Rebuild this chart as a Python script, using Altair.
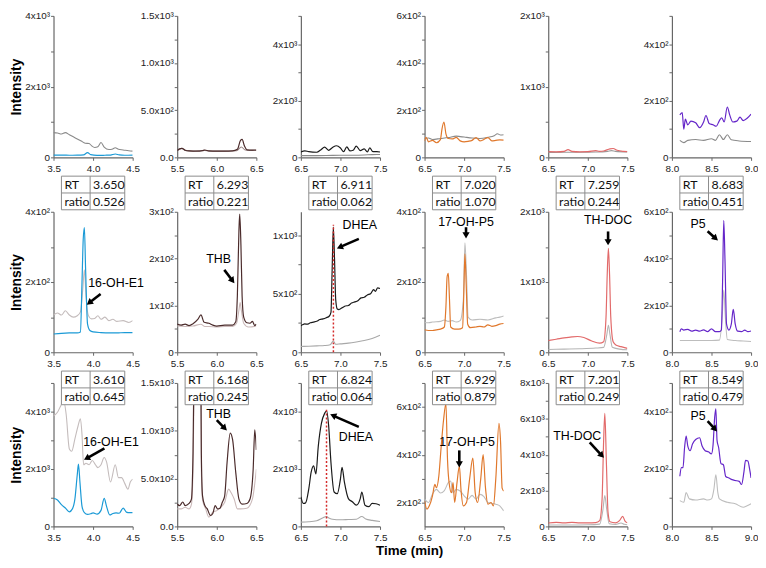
import math
import altair as alt
import pandas as pd

# ---------------- data (time in min, intensity) ----------------
# Row 1
R1C1_MAIN = [(3.5,65),(3.6,62),(3.7,60),(3.8,62),(3.88,70),(3.93,135),(3.97,75),(4.05,55),(4.15,60),(4.22,65),(4.28,95),(4.33,70),(4.4,60),(4.5,65)]
R1C1_REF = [(3.5,700),(3.55,690),(3.6,660),(3.65,700),(3.7,640),(3.75,580),(3.8,520),(3.85,460),(3.9,400),(3.95,390),(3.98,330),(4.02,280),(4.06,300),(4.1,420),(4.14,290),(4.2,220),(4.24,230),(4.28,270),(4.32,230),(4.38,210),(4.45,185),(4.5,175)]
R1C2_MAIN = [(5.5,72),(5.53,90),(5.56,96),(5.6,76),(5.65,68),(5.75,66),(5.82,72),(5.85,78),(5.9,68),(6.0,66),(6.1,66),(6.2,68),(6.26,85),(6.3,180),(6.32,190),(6.35,120),(6.38,80),(6.45,76),(6.5,78)]
R1C2_REF = [(5.5,70),(5.56,95),(5.6,74),(5.7,66),(5.85,74),(5.9,66),(6.1,66),(6.25,70),(6.31,110),(6.36,78),(6.45,74),(6.5,76)]
R1C3_MAIN = [(6.5,190),(6.55,230),(6.6,200),(6.7,180),(6.75,260),(6.8,360),(6.85,250),(6.9,350),(6.95,410),(7.0,330),(7.04,200),(7.08,370),(7.12,230),(7.16,250),(7.2,400),(7.25,240),(7.3,300),(7.34,190),(7.37,340),(7.41,200),(7.46,200),(7.5,190)]
R1C3_REF = [(6.5,60),(6.7,60),(6.9,70),(7.1,75),(7.3,85),(7.4,95),(7.5,100)]
R1C4_MAIN = [(6.5,70),(6.52,85),(6.55,66),(6.6,72),(6.65,62),(6.7,75),(6.72,120),(6.745,150),(6.77,100),(6.8,80),(6.85,78),(6.9,85),(6.95,70),(7.0,66),(7.05,68),(7.1,72),(7.15,84),(7.2,70),(7.25,76),(7.3,84),(7.35,70),(7.4,72),(7.45,74),(7.5,73)]
R1C4_REF = [(6.5,80),(6.55,82),(6.6,76),(6.7,80),(6.8,84),(6.9,90),(6.95,88),(7.0,86),(7.1,82),(7.2,80),(7.3,85),(7.38,92),(7.42,100),(7.46,95),(7.5,96)]
R1C5_MAIN = [(6.5,80),(6.6,78),(6.7,85),(6.75,110),(6.8,85),(6.9,78),(7.0,80),(7.1,95),(7.15,85),(7.2,90),(7.28,120),(7.32,125),(7.37,100),(7.45,85),(7.5,82)]
R1C5_REF = [(6.5,70),(6.7,72),(6.9,72),(7.1,75),(7.25,85),(7.3,95),(7.35,85),(7.5,78)]
R1C6_MAIN = [(8.1,150),(8.13,158),(8.15,100),(8.17,135),(8.2,115),(8.24,128),(8.3,122),(8.35,105),(8.4,125),(8.43,148),(8.47,120),(8.52,115),(8.56,110),(8.6,130),(8.63,140),(8.66,125),(8.7,178),(8.73,150),(8.77,125),(8.82,128),(8.86,142),(8.9,130),(8.95,138),(9.0,153)]
R1C6_REF = [(8.1,60),(8.15,52),(8.2,60),(8.3,63),(8.4,60),(8.5,66),(8.55,60),(8.6,80),(8.65,63),(8.7,80),(8.75,62),(8.85,58),(9.0,56)]
# Row 2
R2C1_MAIN = [(3.5,52),(3.6,54),(3.7,55),(3.8,55),(3.84,58),(3.86,200),(3.875,320),(3.89,355),(3.905,240),(3.93,80),(3.96,62),(4.0,58),(4.1,56),(4.2,55),(4.3,55),(4.4,56),(4.5,56)]
R2C1_REF = [(3.5,106),(3.55,112),(3.6,106),(3.65,118),(3.7,106),(3.75,100),(3.8,104),(3.84,115),(3.87,180),(3.89,235),(3.91,160),(3.94,105),(3.98,95),(4.02,96),(4.06,104),(4.1,94),(4.15,100),(4.2,90),(4.25,94),(4.3,88),(4.38,90),(4.45,85),(4.5,90)]
R2C2_MAIN = [(5.5,60),(5.55,58),(5.6,60),(5.65,57),(5.7,61),(5.76,70),(5.8,80),(5.84,64),(5.9,62),(5.95,58),(6.0,56),(6.1,58),(6.2,58),(6.24,65),(6.26,120),(6.28,260),(6.29,295),(6.305,230),(6.32,120),(6.34,75),(6.38,63),(6.42,62),(6.45,66),(6.48,57),(6.5,60)]
R2C2_REF = [(5.5,56),(5.6,55),(5.7,56),(5.8,60),(5.85,55),(5.9,55),(6.0,54),(6.1,55),(6.2,55),(6.25,62),(6.28,90),(6.295,106),(6.31,90),(6.34,62),(6.4,54),(6.5,56)]
R2C3_MAIN = [(6.5,227),(6.52,235),(6.55,242),(6.58,240),(6.62,252),(6.66,258),(6.7,265),(6.74,280),(6.78,285),(6.82,295),(6.86,310),(6.88,340),(6.895,700),(6.91,1070),(6.925,800),(6.94,450),(6.96,370),(6.98,365),(7.02,380),(7.06,395),(7.1,400),(7.14,420),(7.18,430),(7.22,440),(7.26,465),(7.3,470),(7.34,490),(7.38,500),(7.42,535),(7.44,520),(7.47,550),(7.5,545)]
R2C3_REF = [(6.5,50),(6.6,52),(6.7,55),(6.8,58),(6.87,65),(6.91,96),(6.94,68),(7.0,72),(7.1,78),(7.2,88),(7.3,100),(7.4,118),(7.5,145)]
R2C4_MAIN = [(6.5,64),(6.55,62),(6.6,62),(6.65,64),(6.7,66),(6.75,72),(6.77,130),(6.785,215),(6.8,225),(6.815,150),(6.83,72),(6.88,66),(6.93,66),(6.98,70),(6.995,160),(7.01,280),(7.025,200),(7.045,80),(7.08,70),(7.15,72),(7.2,74),(7.25,72),(7.3,78),(7.35,74),(7.4,76),(7.45,80),(7.5,82)]
R2C4_REF = [(6.5,85),(6.55,84),(6.6,86),(6.7,88),(6.75,92),(6.8,88),(6.85,90),(6.9,86),(6.95,90),(6.99,150),(7.01,312),(7.03,220),(7.05,100),(7.1,92),(7.2,94),(7.3,92),(7.4,98),(7.45,100),(7.5,103)]
R2C5_MAIN = [(6.5,167),(6.6,185),(6.7,205),(6.8,220),(6.87,225),(6.95,210),(7.05,160),(7.15,130),(7.2,150),(7.23,500),(7.245,1100),(7.26,1480),(7.275,1100),(7.29,500),(7.32,150),(7.36,100),(7.42,80),(7.5,55)]
R2C5_REF = [(6.5,40),(6.7,45),(6.9,50),(7.1,60),(7.2,70),(7.24,250),(7.26,385),(7.28,250),(7.31,70),(7.4,45),(7.5,35)]
R2C6_MAIN = [(8.1,88),(8.12,100),(8.15,95),(8.2,98),(8.25,90),(8.3,95),(8.35,90),(8.4,96),(8.45,88),(8.5,100),(8.55,88),(8.6,88),(8.625,95),(8.64,300),(8.655,563),(8.67,400),(8.69,120),(8.72,95),(8.75,120),(8.775,183),(8.8,120),(8.83,90),(8.88,88),(8.92,95),(8.96,88),(9.0,91)]
R2C6_REF = [(8.1,50),(8.2,50),(8.3,50),(8.4,50),(8.5,50),(8.6,52),(8.635,150),(8.655,266),(8.675,150),(8.7,55),(8.8,50),(8.9,48),(9.0,46)]
# Row 3
R3C1_MAIN = [(3.5,980),(3.55,920),(3.6,760),(3.65,640),(3.7,510),(3.74,620),(3.77,950),(3.8,1800),(3.815,2170),(3.835,1500),(3.86,700),(3.89,480),(3.93,420),(3.97,440),(4.0,470),(4.05,430),(4.1,560),(4.14,980),(4.17,700),(4.21,400),(4.25,450),(4.29,470),(4.33,460),(4.38,640),(4.42,500),(4.46,480),(4.5,480)]
R3C1_REF = [(3.5,3850),(3.55,3980),(3.6,4250),(3.63,4370),(3.66,3900),(3.7,2700),(3.73,2620),(3.77,3050),(3.81,3500),(3.84,3750),(3.86,3200),(3.88,2150),(3.91,2200),(3.95,2150),(3.99,2300),(4.03,2150),(4.06,2050),(4.1,2150),(4.14,2400),(4.17,2250),(4.22,1550),(4.28,2150),(4.32,1700),(4.36,1700),(4.4,1500),(4.44,1300),(4.47,1550),(4.5,1650)]
R3C2_MAIN = [(5.5,234),(5.53,217),(5.57,255),(5.6,217),(5.65,240),(5.68,286),(5.7,770),(5.73,3000),(5.76,4000),(5.79,3000),(5.805,770),(5.82,320),(5.85,217),(5.88,183),(5.92,114),(5.95,135),(5.98,217),(6.01,183),(6.04,190),(6.07,252),(6.1,320),(6.13,665),(6.17,976),(6.2,907),(6.24,562),(6.28,286),(6.32,234),(6.38,240),(6.42,286),(6.46,600),(6.48,1010),(6.5,800)]
R3C2_REF = [(5.5,183),(5.55,183),(5.6,200),(5.65,183),(5.68,230),(5.7,600),(5.73,2500),(5.76,3500),(5.79,2500),(5.805,600),(5.82,280),(5.86,183),(5.9,97),(5.95,148),(6.0,165),(6.05,200),(6.1,252),(6.15,390),(6.18,355),(6.22,286),(6.26,183),(6.3,183),(6.38,190),(6.45,286),(6.5,597)]
R3C3_MAIN = [(6.5,1030),(6.53,800),(6.56,820),(6.6,1310),(6.63,1890),(6.66,2110),(6.69,1830),(6.72,2800),(6.76,3600),(6.8,3940),(6.825,4030),(6.85,3540),(6.88,2230),(6.92,1200),(6.96,1140),(7.0,1660),(7.02,2060),(7.05,1540),(7.1,970),(7.15,860),(7.2,740),(7.25,970),(7.27,1200),(7.31,740),(7.36,690),(7.4,800),(7.45,790),(7.5,740)]
R3C3_REF = [(6.5,150),(6.6,160),(6.7,195),(6.78,300),(6.82,345),(6.86,286),(6.9,250),(7.0,230),(7.1,240),(7.2,250),(7.27,345),(7.32,260),(7.4,210),(7.5,170)]
R3C4_MAIN = [(6.5,207),(6.53,172),(6.56,186),(6.6,228),(6.63,276),(6.65,262),(6.68,310),(6.71,434),(6.74,545),(6.77,614),(6.79,379),(6.81,283),(6.84,241),(6.86,283),(6.88,200),(6.91,283),(6.94,352),(6.96,255),(6.99,186),(7.03,200),(7.07,300),(7.11,386),(7.14,240),(7.17,200),(7.21,300),(7.24,400),(7.27,260),(7.3,193),(7.34,200),(7.37,186),(7.4,300),(7.44,531),(7.46,455),(7.48,260),(7.5,248)]
R3C4_REF = [(6.5,214),(6.55,200),(6.6,235),(6.65,255),(6.7,240),(6.75,250),(6.8,283),(6.83,290),(6.86,240),(6.9,255),(6.95,248),(7.0,228),(7.05,214),(7.1,230),(7.15,214),(7.2,234),(7.25,225),(7.3,200),(7.4,193),(7.45,186),(7.5,165)]
R3C5_MAIN = [(6.5,190),(6.6,225),(6.7,200),(6.8,225),(6.9,200),(7.0,200),(7.1,210),(7.15,320),(7.18,1500),(7.2,4800),(7.215,6300),(7.235,3500),(7.255,800),(7.28,260),(7.35,200),(7.4,320),(7.44,560),(7.47,300),(7.5,200)]
R3C5_REF = [(6.5,75),(6.8,80),(7.0,90),(7.15,130),(7.19,900),(7.215,1720),(7.24,900),(7.27,150),(7.35,110),(7.42,190),(7.46,120),(7.5,90)]
R3C6_MAIN = [(8.1,175),(8.12,205),(8.14,205),(8.16,275),(8.18,315),(8.2,281),(8.23,264),(8.26,287),(8.3,303),(8.35,309),(8.38,281),(8.42,264),(8.46,260),(8.5,253),(8.52,285),(8.54,380),(8.555,410),(8.57,300),(8.59,275),(8.62,219),(8.65,215),(8.68,174),(8.72,169),(8.76,163),(8.8,160),(8.85,157),(8.88,146),(8.91,190),(8.93,230),(8.96,228),(8.98,202),(9.0,169)]
R3C6_REF = [(8.1,90),(8.15,84),(8.18,118),(8.22,96),(8.3,92),(8.4,96),(8.45,92),(8.5,96),(8.53,129),(8.555,180),(8.58,118),(8.6,96),(8.7,84),(8.8,79),(8.9,67),(8.95,72),(9.0,79)]

# table values
RT_ROW2 = [3.650, 6.293, 6.911, 7.020, 7.259, 8.683]
RATIO_ROW2 = [0.526, 0.221, 0.062, 1.070, 0.244, 0.451]
RT_ROW3 = [3.610, 6.168, 6.824, 6.929, 7.201, 8.549]
RATIO_ROW3 = [0.645, 0.245, 0.064, 0.879, 0.249, 0.479]

# annotations: (row, col, label, text_t, text_v, tail_t, tail_v, tip_t, tip_v)
ANNOT = [
    (1, 0, "16-OH-E1", 4.29, 196, 4.095, 166, 3.917, 135),
    (1, 1, "THB", 6.024, 199, 6.095, 176, 6.226, 147),
    (1, 2, "DHEA", 7.244, 1084, 7.232, 968, 6.951, 886),
    (1, 3, "17-OH-P5", 7.024, 370, 7.024, 356, 7.024, 323),
    (1, 4, "TH-DOC", 7.256, 1876, 7.256, 1720, 7.256, 1517),
    (1, 5, "P5", 8.329, 546, 8.451, 517, 8.585, 476),
    (2, 0, "16-OH-E1", 4.226, 2925, 4.143, 2721, 3.881, 2313),
    (2, 1, "THB", 6.024, 1173, 6.0, 1112, 6.131, 1000),
    (2, 2, "DHEA", 7.195, 3129, 7.232, 3469, 6.866, 3912),
    (2, 3, "17-OH-P5", 7.037, 451, 6.939, 418, 6.939, 345),
    (2, 4, "TH-DOC", 6.866, 5061, 7.024, 4680, 7.207, 3810),
    (2, 5, "P5", 8.329, 384, 8.451, 367, 8.573, 330),
]
# dotted retention-time markers: (row, col, t, top)
RT_MARKS = [(1, 2, 6.911, 1090), (2, 2, 6.824, 4080)]

TRACES = [
    [(R1C1_MAIN, R1C1_REF), (R1C2_MAIN, R1C2_REF), (R1C3_MAIN, R1C3_REF), (R1C4_MAIN, R1C4_REF), (R1C5_MAIN, R1C5_REF), (R1C6_MAIN, R1C6_REF)],
    [(R2C1_MAIN, R2C1_REF), (R2C2_MAIN, R2C2_REF), (R2C3_MAIN, R2C3_REF), (R2C4_MAIN, R2C4_REF), (R2C5_MAIN, R2C5_REF), (R2C6_MAIN, R2C6_REF)],
    [(R3C1_MAIN, R3C1_REF), (R3C2_MAIN, R3C2_REF), (R3C3_MAIN, R3C3_REF), (R3C4_MAIN, R3C4_REF), (R3C5_MAIN, R3C5_REF), (R3C6_MAIN, R3C6_REF)],
]

COL_XDOM = [[3.5, 4.5], [5.5, 6.5], [6.5, 7.5], [6.5, 7.5], [6.5, 7.5], [8.0, 9.0]]

S2, S3 = "\u00b2", "\u00b3"
Y_A = dict(dom=[0, 4000], labels={0: "0", 2000: "2x10" + S3, 4000: "4x10" + S3}, minor=[1000, 3000])
Y_B = dict(dom=[0, 1500], labels={0: "0.0", 500: "5.0x10" + S2, 1000: "1.0x10" + S3, 1500: "1.5x10" + S3}, minor=[250, 750, 1250])
Y_C = dict(dom=[0, 5000], labels={0: "0", 2000: "2x10" + S3, 4000: "4x10" + S3}, minor=[1000, 3000, 5000])
YCFG = [
    [Y_A, Y_B, Y_C,
     dict(dom=[0, 600], labels={0: "0", 200: "2x10" + S2, 400: "4x10" + S2, 600: "6x10" + S2}, minor=[100, 300, 500]),
     dict(dom=[0, 2000], labels={0: "0", 1000: "1x10" + S3, 2000: "2x10" + S3}, minor=[500, 1500]),
     dict(dom=[0, 500], labels={0: "0", 200: "2x10" + S2, 400: "4x10" + S2}, minor=[100, 300, 500])],
    [dict(dom=[0, 400], labels={0: "0", 200: "2x10" + S2, 400: "4x10" + S2}, minor=[100, 300]),
     dict(dom=[0, 300], labels={0: "0", 100: "1x10" + S2, 200: "2x10" + S2, 300: "3x10" + S2}, minor=[50, 150, 250]),
     dict(dom=[0, 1200], labels={0: "0", 500: "5x10" + S2, 1000: "1x10" + S3}, minor=[250, 750]),
     dict(dom=[0, 400], labels={0: "0", 200: "2x10" + S2, 400: "4x10" + S2}, minor=[100, 300]),
     dict(dom=[0, 2000], labels={0: "0", 1000: "1x10" + S3, 2000: "2x10" + S3}, minor=[500, 1500]),
     dict(dom=[0, 600], labels={0: "0", 200: "2x10" + S2, 400: "4x10" + S2, 600: "6x10" + S2}, minor=[100, 300, 500])],
    [Y_C, Y_B, Y_C,
     dict(dom=[100, 700], labels={200: "2x10" + S2, 400: "4x10" + S2, 600: "6x10" + S2}, minor=[300, 500, 700]),
     dict(dom=[0, 8000], labels={0: "0", 2000: "2x10" + S3, 4000: "4x10" + S3, 6000: "6x10" + S3, 8000: "8x10" + S3}, minor=[1000, 3000, 5000, 7000]),
     dict(dom=[0, 500], labels={0: "0", 200: "2x10" + S2, 400: "4x10" + S2}, minor=[100, 300, 500])],
]

# ---------------- styling / layout ----------------
W = 80
HEIGHTS = [143, 142, 145]
MAIN_COLORS = ["#1b9ad6", "#4b2b2b", "#1a1a1a", "#e0782c", "#e26a6a", "#6526c9"]
REF_ROW1 = ["#8a8a8a", "#9a8585", "#8a8a8a", "#8a8a8a", "#9a9a9a", "#8a8a8a"]
REF_OTHER = ["#c4bcbc", "#cbb9b9", "#a8a8a8", "#bdbdbd", "#b5b5b5", "#bdbdbd"]
FONT = "Liberation Sans"
TABLE_TOP = [None, -36, -12]
TX0, TX1, TX2, TRH = 8, 37, 72, 17
GRID = "#8c8c8c"


def label_expr(labels):
    expr = "''"
    for v, s in labels.items():
        expr = f"abs(datum.value - ({v})) < 1e-6 ? '{s}' : " + expr
    return expr


def panel(r, c):
    H = HEIGHTS[r]
    xdom = COL_XDOM[c]
    ycfg = YCFG[r][c]
    xscale = alt.Scale(domain=xdom, nice=False, zero=False)
    yscale = alt.Scale(domain=ycfg["dom"], nice=False, zero=False)
    xaxis = alt.Axis(values=[xdom[0], (xdom[0] + xdom[1]) / 2, xdom[1]], format=".1f", title=None,
                     labelFlush=False, labelOverlap=False, labelPadding=3)
    yvals = sorted(list(ycfg["labels"].keys()) + ycfg["minor"])
    ykw = dict(values=yvals, labelExpr=label_expr(ycfg["labels"]), labelFlush=False, labelOverlap=False)
    if c == 0:
        yaxis = alt.Axis(title="Intensity", titleFontSize=14, titleFontWeight="bold", titleFont=FONT,
                         titlePadding=3, titleColor="black", minExtent=27, maxExtent=27, **ykw)
    else:
        yaxis = alt.Axis(title=None, **ykw)

    def X(f="t"):
        return alt.X(f"{f}:Q", scale=xscale, axis=xaxis)

    def Y(f="v"):
        return alt.Y(f"{f}:Q", scale=yscale, axis=yaxis)

    main, ref = TRACES[r][c]
    dref = pd.DataFrame(ref, columns=["t", "v"])
    dmain = pd.DataFrame(main, columns=["t", "v"])
    refcol = REF_ROW1[c] if r == 0 else REF_OTHER[c]
    layers = [
        alt.Chart(dref).mark_line(clip=True, interpolate="monotone", strokeWidth=1.1, color=refcol).encode(x=X(), y=Y()),
        alt.Chart(dmain).mark_line(clip=True, interpolate="monotone", strokeWidth=1.2, color=MAIN_COLORS[c]).encode(x=X(), y=Y()),
    ]

    for (rr, cc, t, top) in RT_MARKS:
        if rr == r and cc == c:
            d = pd.DataFrame({"t": [t], "v": [ycfg["dom"][0]], "v2": [top]})
            layers.append(alt.Chart(d).mark_rule(color="#d42a2a", strokeDash=[2, 2], strokeWidth=1.5)
                          .encode(x=X(), y=Y(), y2="v2:Q"))

    sx = W / (xdom[1] - xdom[0])
    sy = H / (ycfg["dom"][1] - ycfg["dom"][0])
    for (rr, cc, lab, tt, tv, at, av, pt, pv) in ANNOT:
        if rr != r or cc != c:
            continue
        dx = (pt - at) * sx
        dy = -(pv - av) * sy
        L = math.hypot(dx, dy)
        ux, uy = dx / L, dy / L
        ang = math.degrees(math.atan2(ux, -uy)) % 360
        hx = pt - ux * 3.5 / sx
        hy = pv + uy * 3.5 / sy
        dtext = pd.DataFrame({"t": [tt], "v": [tv], "lab": [lab]})
        darrow = pd.DataFrame({"t": [at], "v": [av], "t2": [hx], "v2": [hy]})
        dhead = pd.DataFrame({"t": [hx], "v": [hy]})
        layers.append(alt.Chart(dtext).mark_text(font=FONT, fontSize=12.5, color="black", align="center",
                                                  baseline="middle").encode(x=X(), y=Y(), text="lab:N"))
        layers.append(alt.Chart(darrow).mark_rule(color="black", strokeWidth=2.6).encode(
            x=X(), y=Y(), x2="t2:Q", y2="v2:Q"))
        layers.append(alt.Chart(dhead).mark_point(shape="triangle-up", filled=True, size=52, angle=ang,
                                                  color="black", opacity=1).encode(x=X(), y=Y()))

    if r > 0:
        rt = (RT_ROW2 if r == 1 else RT_ROW3)[c]
        ratio = (RATIO_ROW2 if r == 1 else RATIO_ROW3)[c]
        y0 = TABLE_TOP[r]
        one = pd.DataFrame({"k": [0]})
        layers.append(alt.Chart(one).mark_rect(fill="white", stroke=GRID, strokeWidth=1).encode(
            x=alt.value(TX0), x2=alt.value(TX2), y=alt.value(y0), y2=alt.value(y0 + 2 * TRH)))
        layers.append(alt.Chart(one).mark_rule(color=GRID, strokeWidth=1).encode(
            x=alt.value(TX1), y=alt.value(y0), y2=alt.value(y0 + 2 * TRH)))
        layers.append(alt.Chart(one).mark_rule(color=GRID, strokeWidth=1).encode(
            x=alt.value(TX0), x2=alt.value(TX2), y=alt.value(y0 + TRH)))
        cells = [("RT", TX0 + 3, 0), ("ratio", TX0 + 3, 1), (f"{rt:.3f}", TX1 + 3, 0), (f"{ratio:.3f}", TX1 + 3, 1)]
        for txt, xx, row in cells:
            layers.append(alt.Chart(one).mark_text(font="Lato", fontSize=12.5, color="#111", align="left",
                                                   baseline="middle").encode(
                x=alt.value(xx), y=alt.value(y0 + TRH * row + TRH / 2 + 0.5), text=alt.value(txt)))

    return alt.layer(*layers).properties(width=W, height=H)


rows = []
for r in range(3):
    rows.append(alt.hconcat(*[panel(r, c) for c in range(6)], spacing=45, bounds="flush"))

chart = alt.vconcat(
    *rows, spacing=2, padding={"left": 2, "top": 0, "right": 0, "bottom": 0},
    title=alt.TitleParams("Time (min)", orient="bottom", anchor="middle", offset=2, fontSize=13.5,
                          fontWeight="bold", font=FONT, color="black", dx=26),
).configure_view(stroke=None).configure_axis(
    labelFont=FONT, labelFontSize=10, labelColor="#222", domainColor="#666", tickColor="#666",
    domainWidth=1.2, tickSize=3, labelPadding=1, grid=False,
)

chart.save("out.html", embed_options={"renderer": "svg", "actions": False})
